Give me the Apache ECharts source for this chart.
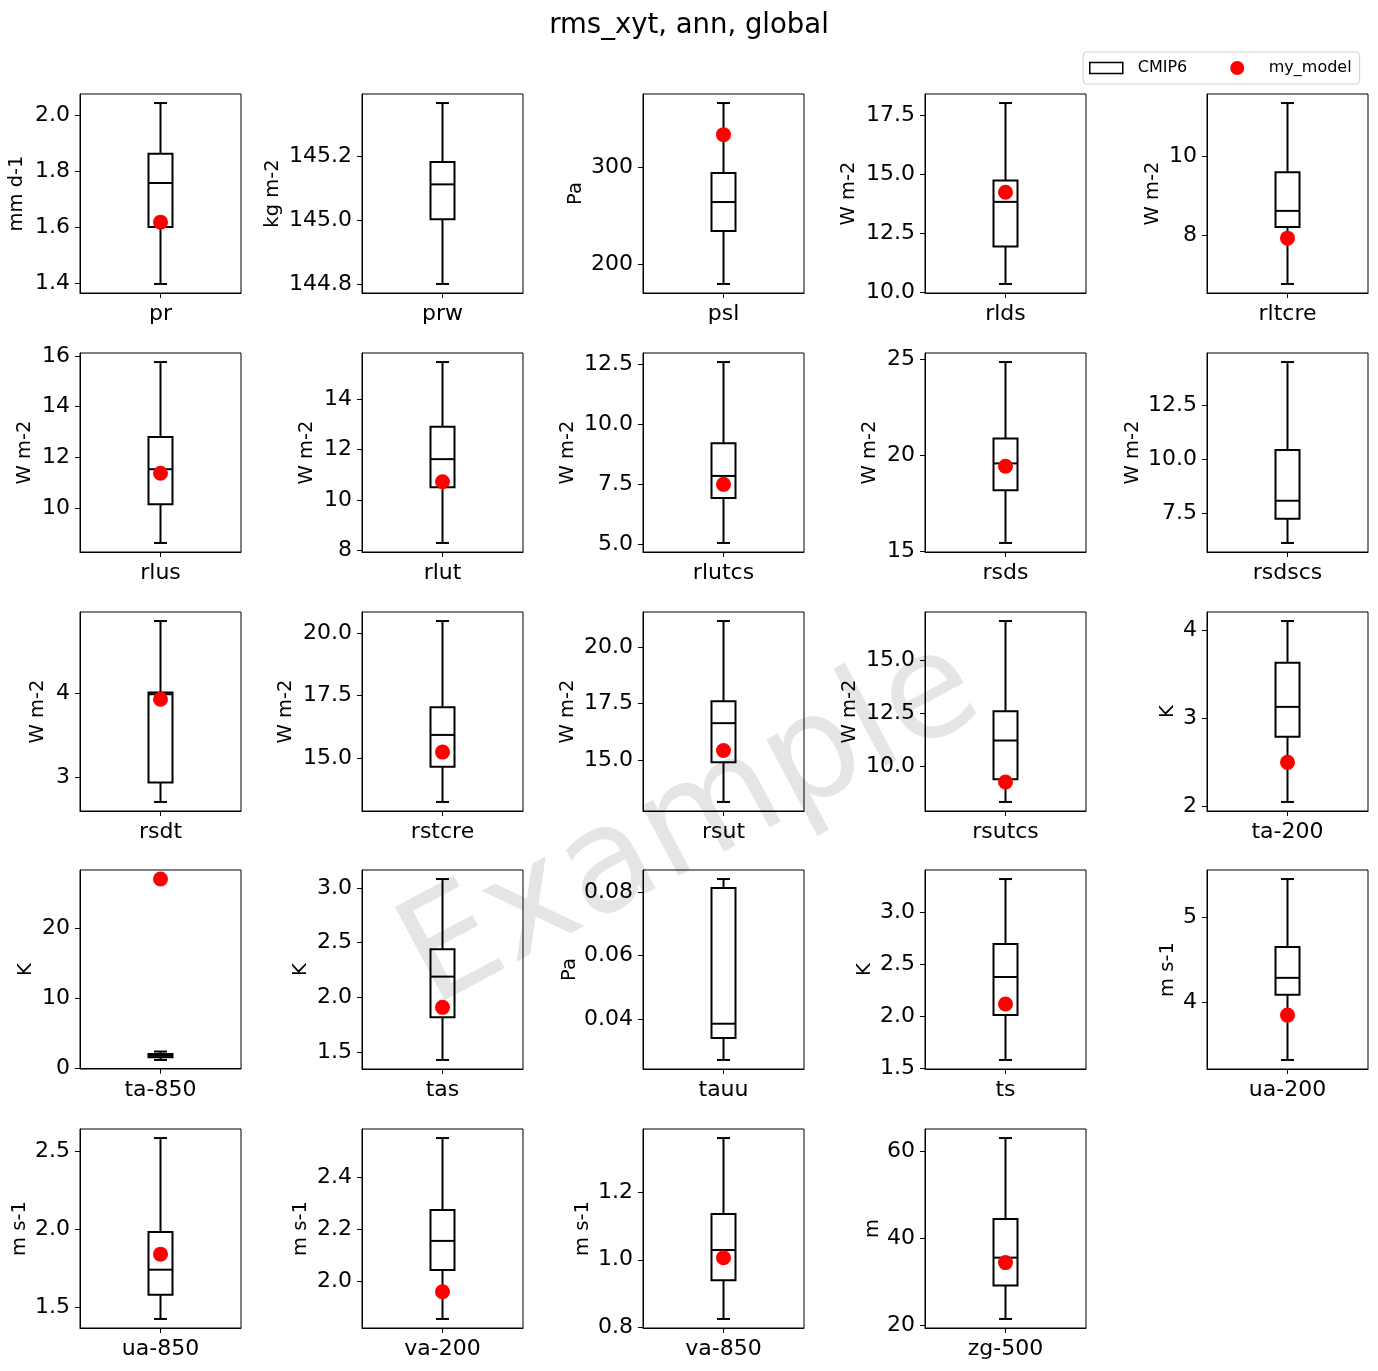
<!DOCTYPE html>
<html>
<head>
<meta charset="utf-8">
<script src="https://cdn.jsdelivr.net/npm/echarts@6/dist/echarts.min.js"></script>
<style>
html,body{margin:0;padding:0;background:#fff;}
#chart{width:1378px;height:1371px;}
</style>
</head>
<body>
<div id="chart"></div>
<script>
// ---------------- data ----------------
const variables = ['pr','prw','psl','rlds','rltcre','rlus','rlut','rlutcs','rsds','rsdscs','rsdt','rstcre','rsut','rsutcs','ta-200','ta-850','tas','tauu','ts','ua-200','ua-850','va-200','va-850','zg-500'];
const units = ['mm d-1','kg m-2','Pa','W m-2','W m-2','W m-2','W m-2','W m-2','W m-2','W m-2','W m-2','W m-2','W m-2','W m-2','K','K','K','Pa','K','m s-1','m s-1','m s-1','m s-1','m'];
const whiskerLow  = [1.396,144.802,180,10.36,6.76, 8.62,8.28,5.07,15.45,6.10, 2.71,13.23,13.16,8.33,2.05, 1.25,1.43,0.02705,1.58,3.32, 1.423,1.857,0.824,21.38];
const quartile1   = [1.600,145.004,234.6,11.95,8.20, 10.15,10.50,6.94,18.18,7.22, 2.94,14.64,14.91,9.40,2.79, 1.65,1.82,0.0340,2.013,4.09, 1.579,2.045,0.939,29.08];
const medians     = [1.757,145.113,264.5,13.84,8.61, 11.53,11.62,7.86,19.58,8.06, 3.99,15.92,16.64,11.23,3.13, 1.85,2.19,0.0385,2.378,4.29, 1.74,2.156,1.029,35.53];
const quartile3   = [1.862,145.183,294.4,14.75,9.59, 12.80,12.91,9.22,20.87,10.42, 4.01,17.03,17.61,12.61,3.63, 2.10,2.44,0.0814,2.695,4.654, 1.983,2.274,1.136,44.45];
const whiskerHigh = [2.043,145.367,366.6,18.03,11.34, 15.76,15.49,12.60,24.84,14.50, 4.86,20.49,21.15,16.87,4.105, 2.45,3.08,0.0842,3.32,5.457, 2.587,2.55,1.362,63.13];
const myModel     = [1.617,null,334,14.25,7.92, 11.37,10.72,7.51,19.43,null, 3.93,15.23,15.43,9.27,2.50, 27.1,1.91,null,2.118,3.85, 1.84,1.961,1.006,34.38];
const yTickLabels = [
  ['1.4','1.6','1.8','2.0'], ['144.8','145.0','145.2'], ['200','300'], ['10.0','12.5','15.0','17.5'], ['8','10'],
  ['10','12','14','16'], ['8','10','12','14'], ['5.0','7.5','10.0','12.5'], ['15','20','25'], ['7.5','10.0','12.5'],
  ['3','4'], ['15.0','17.5','20.0'], ['15.0','17.5','20.0'], ['10.0','12.5','15.0'], ['2','3','4'],
  ['0','10','20'], ['1.5','2.0','2.5','3.0'], ['0.04','0.06','0.08'], ['1.5','2.0','2.5','3.0'], ['4','5'],
  ['1.5','2.0','2.5'], ['2.0','2.2','2.4'], ['0.8','1.0','1.2'], ['20','40','60']
];
const titleText = 'rms_xyt, ann, global';
const refName = 'CMIP6';
const modelName = 'my_model';

// ---------------- layout (not data) ----------------
const colLefts = [80, 362, 643, 925, 1207];
const rowTops = [94, 353, 612, 870, 1129];
const panelW = 161, panelH = 199;
const nameCenterGaps = [63,89,67,76,54, 55,55,75,55,74, 42,76,75,75,39, 54,61,73,60,39, 60,61,60,52];
const FONT = 'DejaVu Sans';

const grids = [], xAxes = [], yAxes = [], series = [];

function boxRender(params, api) {
  const c = i => api.coord([api.value(0), api.value(i)]);
  const xc = c(1)[0];
  const lo = c(1)[1], q1 = c(2)[1], md = c(3)[1], q3 = c(4)[1], hi = c(5)[1];
  const hw = 12, cw = 6.5;
  const st = {stroke: '#000', lineWidth: 2, fill: null};
  return {type: 'group', children: [
    {type: 'line', shape: {x1: xc, y1: lo, x2: xc, y2: q1}, style: st},
    {type: 'line', shape: {x1: xc, y1: q3, x2: xc, y2: hi}, style: st},
    {type: 'line', shape: {x1: xc - cw, y1: lo, x2: xc + cw, y2: lo}, style: st},
    {type: 'line', shape: {x1: xc - cw, y1: hi, x2: xc + cw, y2: hi}, style: st},
    {type: 'rect', shape: {x: xc - hw, y: q3, width: 2 * hw, height: q1 - q3}, style: {stroke: '#000', lineWidth: 2, fill: '#fff'}},
    {type: 'line', shape: {x1: xc - hw, y1: md, x2: xc + hw, y2: md}, style: st}
  ]};
}

variables.forEach((v, i) => {
  const col = i % 5, row = Math.floor(i / 5);
  grids.push({left: colLefts[col], top: rowTops[row], width: panelW, height: panelH,
    show: true, borderColor: '#000', borderWidth: 1, backgroundColor: 'transparent'});
  const vals = [whiskerLow[i], whiskerHigh[i]];
  if (myModel[i] !== null) vals.push(myModel[i]);
  const lo = Math.min(...vals), hi = Math.max(...vals);
  const pad = 0.05 * (hi - lo);
  const ticks = yTickLabels[i].map(Number);
  const labels = yTickLabels[i];
  xAxes.push({gridIndex: i, type: 'category', data: [v],
    axisLine: {show: true, lineStyle: {color: '#000', width: 1}},
    axisTick: {show: true, alignWithLabel: true, length: 5, lineStyle: {color: '#000'}},
    axisLabel: {fontSize: 22, color: '#000', margin: 10, fontFamily: FONT},
    splitLine: {show: false}});
  yAxes.push({gridIndex: i, type: 'value', min: lo - pad, max: hi + pad,
    name: units[i], nameLocation: 'middle', nameRotate: 90, nameGap: nameCenterGaps[i] - 10,
    nameMoveOverlap: false,
    nameTextStyle: {fontSize: 19.5, color: '#000', fontFamily: FONT},
    axisLine: {show: true, lineStyle: {color: '#000', width: 1}},
    axisTick: {show: true, length: 5, lineStyle: {color: '#000'}, customValues: ticks},
    axisLabel: {fontSize: 22, color: '#000', margin: 10, fontFamily: FONT, customValues: ticks,
      formatter: function (val) {
        let best = labels[0], bd = Infinity;
        ticks.forEach((t, k) => { const d = Math.abs(t - val); if (d < bd) { bd = d; best = labels[k]; } });
        return best;
      }},
    splitLine: {show: false}});
  series.push({type: 'custom', name: refName, xAxisIndex: i, yAxisIndex: i,
    renderItem: boxRender, encode: {x: 0, y: [1, 2, 3, 4, 5]},
    data: [[0, whiskerLow[i], quartile1[i], medians[i], quartile3[i], whiskerHigh[i]]], z: 2});
  if (myModel[i] !== null) {
    series.push({type: 'scatter', name: modelName, xAxisIndex: i, yAxisIndex: i,
      data: [[0, myModel[i]]], symbolSize: 15, itemStyle: {color: '#ff0000', opacity: 1}, z: 5});
  }
});

const option = {
  animation: false,
  backgroundColor: '#fff',
  textStyle: {fontFamily: FONT},
  title: {text: titleText, left: 'center', top: 7,
    textStyle: {fontSize: 27.5, fontWeight: 'normal', color: '#000', fontFamily: FONT}},
  legend: {
    data: [
      {name: refName, icon: 'path://M0,0H33V11H0Z', itemStyle: {color: '#fff', borderColor: '#000', borderWidth: 1.5}},
      {name: modelName, icon: 'circle', itemStyle: {color: '#ff0000', opacity: 1}}
    ],
    left: 1083, top: 52, orient: 'horizontal',
    itemWidth: 33, itemHeight: 14, itemGap: 43, symbolKeepAspect: true,
    padding: [8, 8, 8, 6],
    borderColor: '#d0d0d0', borderWidth: 1, borderRadius: 4, backgroundColor: '#fff',
    selectedMode: false,
    textStyle: {fontSize: 16, color: '#000', fontFamily: FONT, padding: [0, 0, 0, 10]}
  },
  grid: grids,
  xAxis: xAxes,
  yAxis: yAxes,
  series: series,
  graphic: [{
    type: 'text', x: 692, y: 826, rotation: 28 * Math.PI / 180, silent: true, z: 100,
    style: {text: 'Example', fontSize: 145, fontFamily: FONT, fill: 'rgba(0,0,0,0.1)',
      textAlign: 'center', textVerticalAlign: 'middle'}
  }]
};

const chart = echarts.init(document.getElementById('chart'), null, {renderer: 'canvas'});
chart.setOption(option);
</script>
</body>
</html>
